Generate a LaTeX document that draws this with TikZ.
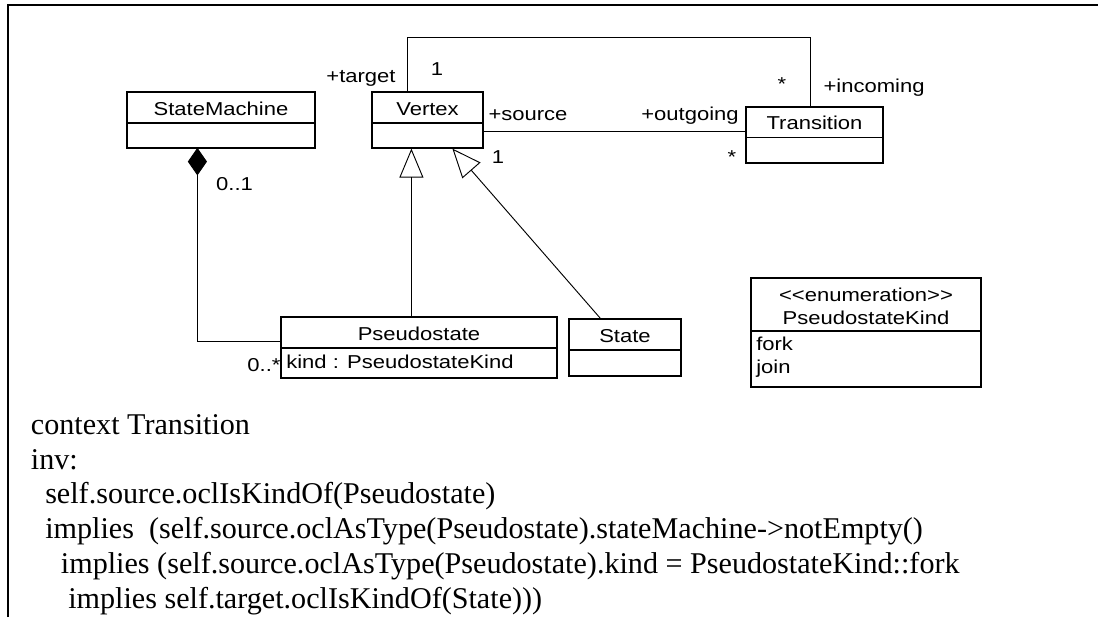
\documentclass[tikz,border=0pt]{standalone}
\usepackage{fontspec}
\setmainfont{Liberation Serif}
\newfontfamily\umlfont[FakeStretch=1.18]{Liberation Sans}
\usetikzlibrary{arrows.meta,calc}
\begin{document}
\begin{tikzpicture}[x=0.75pt,y=-0.75pt,
  umltext/.style={font=\umlfont\fontsize{14}{16}\selectfont},
  cls/.style={draw, line width=0.9pt, inner sep=0pt, umltext, text height=11.25pt, text depth=0pt},
  lbl/.style={inner sep=0pt, anchor=base, umltext},
  lblw/.style={inner sep=0pt, anchor=base west, umltext},
  conn/.style={line width=0.7pt},
  gen/.style={conn, -{Triangle[open,length=21.75pt,width=18pt,line width=0.7pt]}},
  ocl/.style={inner sep=0pt, anchor=base west, font=\fontsize{22.6}{26}\selectfont}
]
\useasboundingbox (0,0) rectangle (1098,617);
% frame
\draw[line width=1.5pt] (8,617) -- (8,5) -- (1098,5);

% classes
\node[cls, minimum width=141pt, minimum height=23.25pt] (smH) at (221,107.5) {StateMachine};
\node[cls, minimum width=141pt, minimum height=18.75pt] (smB) at (221,135.5) {};
\node[cls, minimum width=83.25pt, minimum height=23.25pt] (vH) at (427.5,107.5) {Vertex};
\node[cls, minimum width=83.25pt, minimum height=18.75pt] (vB) at (427.5,135.5) {};
\node[cls, minimum width=102.75pt, minimum height=22.875pt] (tH) at (814.5,122.25) {Transition};
\node[cls, minimum width=102.75pt, minimum height=19.125pt] (tB) at (814.5,150.25) {};
\node[cls, minimum width=207pt, minimum height=23.25pt] (pH) at (419,332.5) {Pseudostate};
\node[cls, minimum width=207pt, minimum height=22.5pt] (pB) at (419,363) {};
\node[cls, minimum width=84pt, minimum height=23.25pt] (sH) at (625,334.5) {State};
\node[cls, minimum width=84pt, minimum height=19.5pt] (sB) at (625,363) {};
\node[cls, minimum width=172.5pt, minimum height=39.75pt] (eH) at (866,304.5) {};
\node[cls, minimum width=172.5pt, minimum height=42pt] (eB) at (866,359) {};

% compartment texts
\node[lblw] (pkind) at (286,368) {kind : PseudostateKind};
\node[lbl] (estereo) at (866,301.7) {<\kern0pt<enumeration>\kern0pt>};
\node[lbl] (ename) at (866,324) {PseudostateKind};
\node[lblw] (efork) at (756,350.7) {fork};
\node[lblw] (ejoin) at (756,373) {join};

% connectors
\draw[conn] ($(vH.north west)+(36,0)$) -- ++(0,-54) -| ($(tH.north west)+(65,0)$);
\draw[conn] ($(vB.north east)+(0,9)$) coordinate (s1) -- (s1 -| tH.west);
\coordinate (d0) at ($(smB.south west)+(71,0)$);
\filldraw[conn] (d0) -- ++(9,13) -- ++(-9,13) coordinate (d1) -- ++(-9,-13) -- cycle;
\draw[conn] (d1) |- ($(pH.south west)+(0,-7)$);
\draw[gen] ($(pH.north west)+(131,0)$) coordinate (g1) -- (g1 |- vB.south);
\draw[gen] ($(sH.north west)+(32,0)$) -- ($(vB.south west)+(81,0)$);

% role names and multiplicities
\node[lbl] (ltarget) at (361,82) {+target};
\node[lbl] (m1) at (437,75) {1};
\node[lbl] (lsource) at (528,120) {+source};
\node[lbl] (loutgoing) at (690,120) {+outgoing};
\node[lbl] (m2) at (498,163) {1};
\node[lbl] (m3) at (732,163) {*};
\node[lbl] (m4) at (782,90) {*};
\node[lbl] (lincoming) at (874,93) {+incoming};
\node[lbl] (m5) at (234.5,190.7) {0..1};
\node[lbl] (m6) at (264,371) {0..*};

% OCL constraint
\node[ocl] (o1) at (30.7,434.5) {context Transition};
\node[ocl] (o2) at (30.7,469.2) {inv:};
\node[ocl] (o3) at (45,503.9) {self.source.oclIsKindOf(Pseudostate)};
\node[ocl] (o4) at (45,538.6) {implies~ (self.source.oclAsType(Pseudostate).stateMachine->notEmpty()};
\node[ocl] (o5) at (60.7,573.3) {implies (self.source.oclAsType(Pseudostate).kind = PseudostateKind::fork};
\node[ocl] (o6) at (68,608) {implies self.target.oclIsKindOf(State)))};
\end{tikzpicture}
\end{document}
